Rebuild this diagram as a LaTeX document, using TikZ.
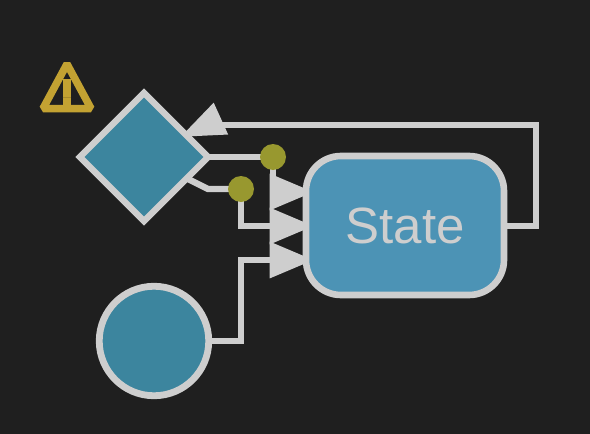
\documentclass[tikz,border=0pt]{standalone}
\usepackage{fontspec}
\setmainfont{Liberation Sans}
\usetikzlibrary{arrows.meta,shapes.geometric}
\pgfdeclarelayer{front}
\pgfsetlayers{main,front}
\definecolor{bgdark}{HTML}{1F1F1F}
\definecolor{wire}{HTML}{CECECE}
\definecolor{tealfill}{HTML}{3C859E}
\definecolor{statefill}{HTML}{4C93B5}
\definecolor{dotfill}{HTML}{98982F}
\definecolor{warnfill}{HTML}{C3A232}
\definecolor{warnline}{HTML}{A68A2B}
\tikzset{
    wirepath/.style={draw=wire,line width=6.4pt,-{Triangle[length=44pt,width=35pt,fill=wire]}},
    wireplain/.style={draw=wire,line width=6.4pt},
    pseudo/.style={circle,draw=wire,line width=6.8pt,fill=tealfill,inner sep=0pt,minimum size=109.5pt},
    choice/.style={diamond,aspect=1,draw=wire,line width=6.4pt,fill=tealfill,inner sep=0pt,minimum size=131pt},
    statebox/.style={rectangle,rounded corners=35pt,draw=wire,line width=6.6pt,fill=statefill,inner sep=0pt,
        minimum width=198pt,minimum height=139pt,text=wire,font=\fontsize{51}{51}\selectfont},
    guard/.style={circle,fill=dotfill,inner sep=0pt,minimum size=26pt},
}
\begin{document}
\begin{tikzpicture}[x=1pt,y=-1pt]
    \useasboundingbox[fill=bgdark] (0,0) rectangle (590,434);
    \begin{pgfonlayer}{front}
        \node[choice] (c) at (144,157) {};
        \node[pseudo] (p) at (154,341) {};
        \node[statebox] (s) at (405,225.5) {\raisebox{-1pt}{State}};
        \node[guard] (g1) at (273,157) {};
        \node[guard] (g2) at (241,189) {};
    \end{pgfonlayer}
    % arrow tips end under the state box
    \coordinate (in1) at ([xshift=11pt]s.west |- 0,192);
    \coordinate (in2) at ([xshift=11pt]s.west |- 0,226);
    \coordinate (in3) at ([xshift=11pt]s.west |- 0,260);
    \draw[wireplain] (c.center) -- (g1.center);
    \draw[wireplain] (c.center) -- (208,189) -- (g2.center);
    \draw[wirepath] (g1.center) -- (g1 |- in1) -- (in1);
    \draw[wirepath] (g2.center) -- (g2 |- in2) -- (in2);
    \draw[wirepath] (p.center) -- (241,341) -- (241,260) -- (in3);
    \draw[wireplain] (s.center |- in2) -- (536,226) -- (536,125) -- (220,125);
    \coordinate (back) at ([shift={(-8,3.6)}]c.28.6);
    \draw[wirepath,line width=0pt] (220,119) -- (back);
    % warning icon
    \draw[warnfill,line width=7.5pt,line join=bevel] (67,64) -- (91,108.5) -- (43,108.5) -- cycle;
    \fill[warnfill] (62.5,79) rectangle (71,105);
    \draw[warnline,line width=0.8pt] (62.5,97.5) -- (71,97.5);
\end{tikzpicture}
\end{document}
